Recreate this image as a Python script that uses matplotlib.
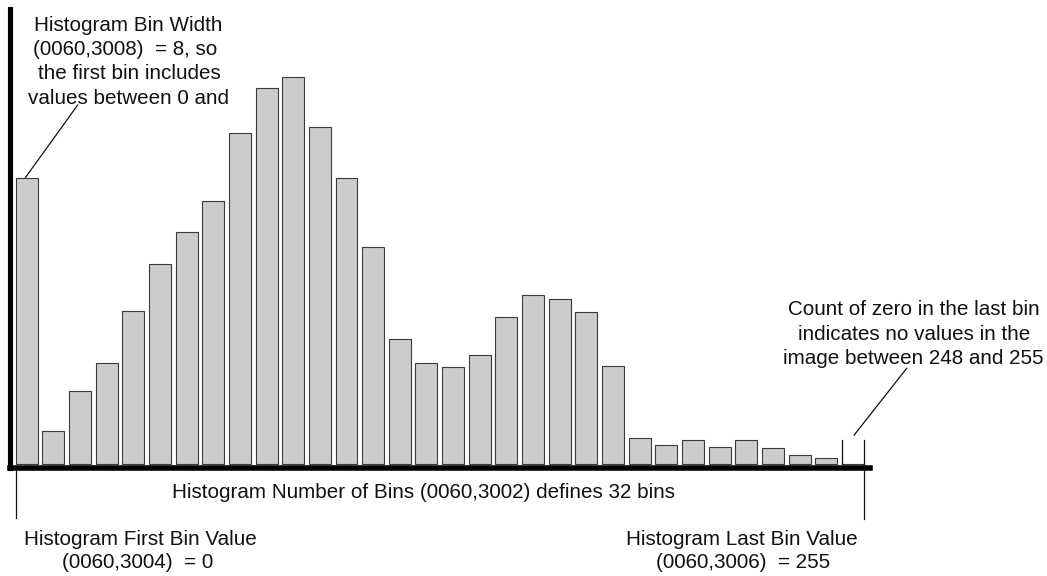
import matplotlib
matplotlib.use("Agg")
import matplotlib.pyplot as plt
import numpy as np

# ---- data ----
bins = np.arange(32)  # bin index 0..31
counts = [285.7, 33.3, 73.3, 101.3, 153.0, 200.0, 231.7, 263.3,
          330.7, 376.3, 387.3, 337.3, 285.7, 217.3, 125.3, 101.3,
          97.3, 109.0, 147.3, 169.3, 164.7, 152.0, 98.3, 26.3,
          18.7, 23.7, 16.7, 23.7, 15.7, 9.0, 6.3, 0.0]

W, H = 1047, 576
FONT = "Liberation Sans"
FS = 14.9

fig = plt.figure(figsize=(W / 100, H / 100), dpi=100)
fig.patch.set_facecolor("white")

# axes geometry (pixels from top-left)
ax_left, ax_right, ax_top, ax_bot = 10.0, 870.0, 9.3, 467.7
ax = fig.add_axes([ax_left / W, 1 - ax_bot / H,
                   (ax_right - ax_left) / W, (ax_bot - ax_top) / H])

bar_w = 0.825
ax.bar(bins, counts, width=bar_w, color="#cccccc", edgecolor="#3a3a3a",
       linewidth=0.8, zorder=2)

ax.set_xlim(-0.6266, 31.643)
ax.set_ylim(-3.7, 454.7)

for s in ["top", "right"]:
    ax.spines[s].set_visible(False)
ax.spines["left"].set_linewidth(3.7)
ax.spines["bottom"].set_linewidth(4.0)
for s in ["left", "bottom"]:
    ax.spines[s].set_capstyle("projecting")
    ax.spines[s].set_color("black")
    ax.spines[s].set_zorder(3)
ax.set_xticks([])
ax.set_yticks([])
ax.patch.set_alpha(0)

line_kw = dict(color="#111111", linewidth=0.9, clip_on=False, zorder=4)
# edge markers for first and last bins
first_left = bins[0] - bar_w / 2
last_left = bins[-1] - bar_w / 2
last_right = bins[-1] + bar_w / 2
ax.plot([first_left, first_left], [-6, -54], **line_kw)
ax.plot([last_left, last_left], [0, 24], **line_kw)
ax.plot([last_right, last_right], [24, -55], **line_kw)

# leader lines
ax.plot([bins[0] - 0.04, 1.914], [counts[0] + 1, 359], **line_kw)
ax.plot([31.05, 33.02], [29, 95.7], **line_kw)


def ftext(x, y, s, ha="center"):
    fig.text(x / W, 1 - y / H, s, ha=ha, va="baseline", fontsize=FS,
             family=FONT, color="#111111")


# top-left annotation
ftext(128.6, 30.7, "Histogram Bin Width")
ftext(125.5, 55.3, "(0060,3008)  = 8, so")
ftext(129.0, 79.3, "the first bin includes")
ftext(128.5, 103.5, "values between 0 and")

# right annotation
ftext(914.2, 315.0, "Count of zero in the last bin")
ftext(913.8, 339.5, "indicates no values in the")
ftext(913.3, 364.0, "image between 248 and 255")

# bottom centre
ftext(423.5, 498.3, "Histogram Number of Bins (0060,3002) defines 32 bins")

# bottom-left
ftext(140.3, 545.0, "Histogram First Bin Value")
ftext(137.5, 568.3, "(0060,3004)  = 0")

# bottom-right
ftext(742.3, 545.0, "Histogram Last Bin Value")
ftext(743.3, 568.3, "(0060,3006)  = 255")

fig.savefig("out.png", dpi=100, facecolor="white")
